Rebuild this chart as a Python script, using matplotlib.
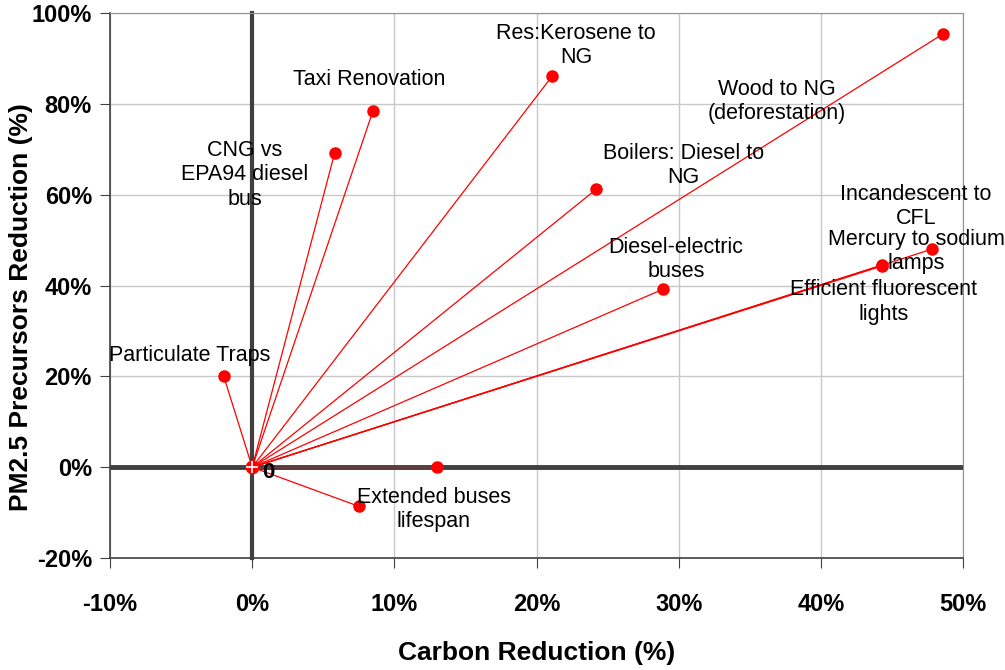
import matplotlib
matplotlib.use("Agg")
from matplotlib import pyplot as plt
from matplotlib.ticker import PercentFormatter, MultipleLocator

plt.rcParams['font.family'] = ['Liberation Sans', 'DejaVu Sans']
plt.rcParams['axes.unicode_minus'] = False

# measures: carbon reduction (%) vs PM2.5 precursors reduction (%)
names = [
    'Particulate Traps',
    'CNG vs\nEPA94 diesel\nbus',
    'Taxi Renovation',
    'Res:Kerosene to\nNG',
    'Boilers: Diesel to\nNG',
    'Wood to NG\n(deforestation)',
    'Diesel-electric\nbuses',
    'Incandescent to\nCFL',
    'Mercury to sodium\nlamps',
    'Efficient fluorescent\nlights',
    'Extended buses\nlifespan',
    '',
]
carbon = [-2.0, 5.8, 8.5, 21.1, 24.2, 48.6, 28.9, 47.8, 44.3, 44.3, 7.5, 13.0]
pm25 = [20.0, 69.2, 78.5, 86.1, 61.2, 95.4, 39.2, 48.0, 44.5, 44.3, -8.6, 0.0]

# label offsets from each point, in pixels
label_dx = [-34, -90, -4, 24, 87, -166, 13, -16, 34, 2, 75, 0]
label_dy = [21, -22, 31, 31, 24, -68, 30, 43, 14, -36, -3, 0]

fig = plt.figure(figsize=(10.05, 6.7), dpi=100)
ax = fig.add_axes([0.1095, 0.167, 0.8487, 0.8136])

ax.set_xlim(-10, 50)
ax.set_ylim(-20, 100)
ax.xaxis.set_major_locator(MultipleLocator(10))
ax.yaxis.set_major_locator(MultipleLocator(20))
ax.xaxis.set_major_formatter(PercentFormatter(decimals=0))
ax.yaxis.set_major_formatter(PercentFormatter(decimals=0))
ax.grid(True, color='#c8c8c8', lw=1.0, zorder=0)
ax.set_axisbelow(True)

for side in ['top', 'right']:
    ax.spines[side].set_color('#909090')
for side in ['left', 'bottom']:
    ax.spines[side].set_color('#404040')
    ax.spines[side].set_linewidth(1.2)

# zero axes
ax.axhline(0, color='#404040', lw=3.5, zorder=1)
ax.axvline(0, color='#404040', lw=3.0, zorder=1, clip_on=False)

# rays from origin
for x, y in zip(carbon, pm25):
    ax.plot([0, x], [0, y], color='red', lw=0.9, zorder=2)
ax.plot(carbon, pm25, 'o', color='red', ms=8, zorder=3)

# origin marker
ax.plot([0], [0], 'o', color='red', ms=9, zorder=4)
ax.plot([0], [0], '+', color='white', ms=8, mew=1.2, zorder=5)
ax.annotate('0', (0, 0), xytext=(16, -5), textcoords='offset pixels',
            ha='center', va='center', fontsize=16, fontweight='bold', zorder=6)

for name, x, y, dx, dy in zip(names, carbon, pm25, label_dx, label_dy):
    if not name:
        continue
    ax.annotate(name, (x, y), xytext=(dx, dy), textcoords='offset pixels',
                ha='center', va='center', fontsize=15.5, linespacing=1.2,
                zorder=6)

ax.tick_params(axis='both', direction='out', length=7, color='#404040')
ax.tick_params(axis='x', pad=18)
ax.tick_params(axis='y', pad=6)
for lbl in ax.get_xticklabels() + ax.get_yticklabels():
    lbl.set_fontweight('bold')
    lbl.set_fontsize(17)

ax.set_xlabel('Carbon Reduction (%)', fontsize=19, fontweight='bold',
              labelpad=18)
ax.set_ylabel('PM2.5 Precursors Reduction (%)', fontsize=19,
              fontweight='bold')
ax.yaxis.set_label_coords(-0.09, 0.46)

fig.savefig('out.png', dpi=100)
